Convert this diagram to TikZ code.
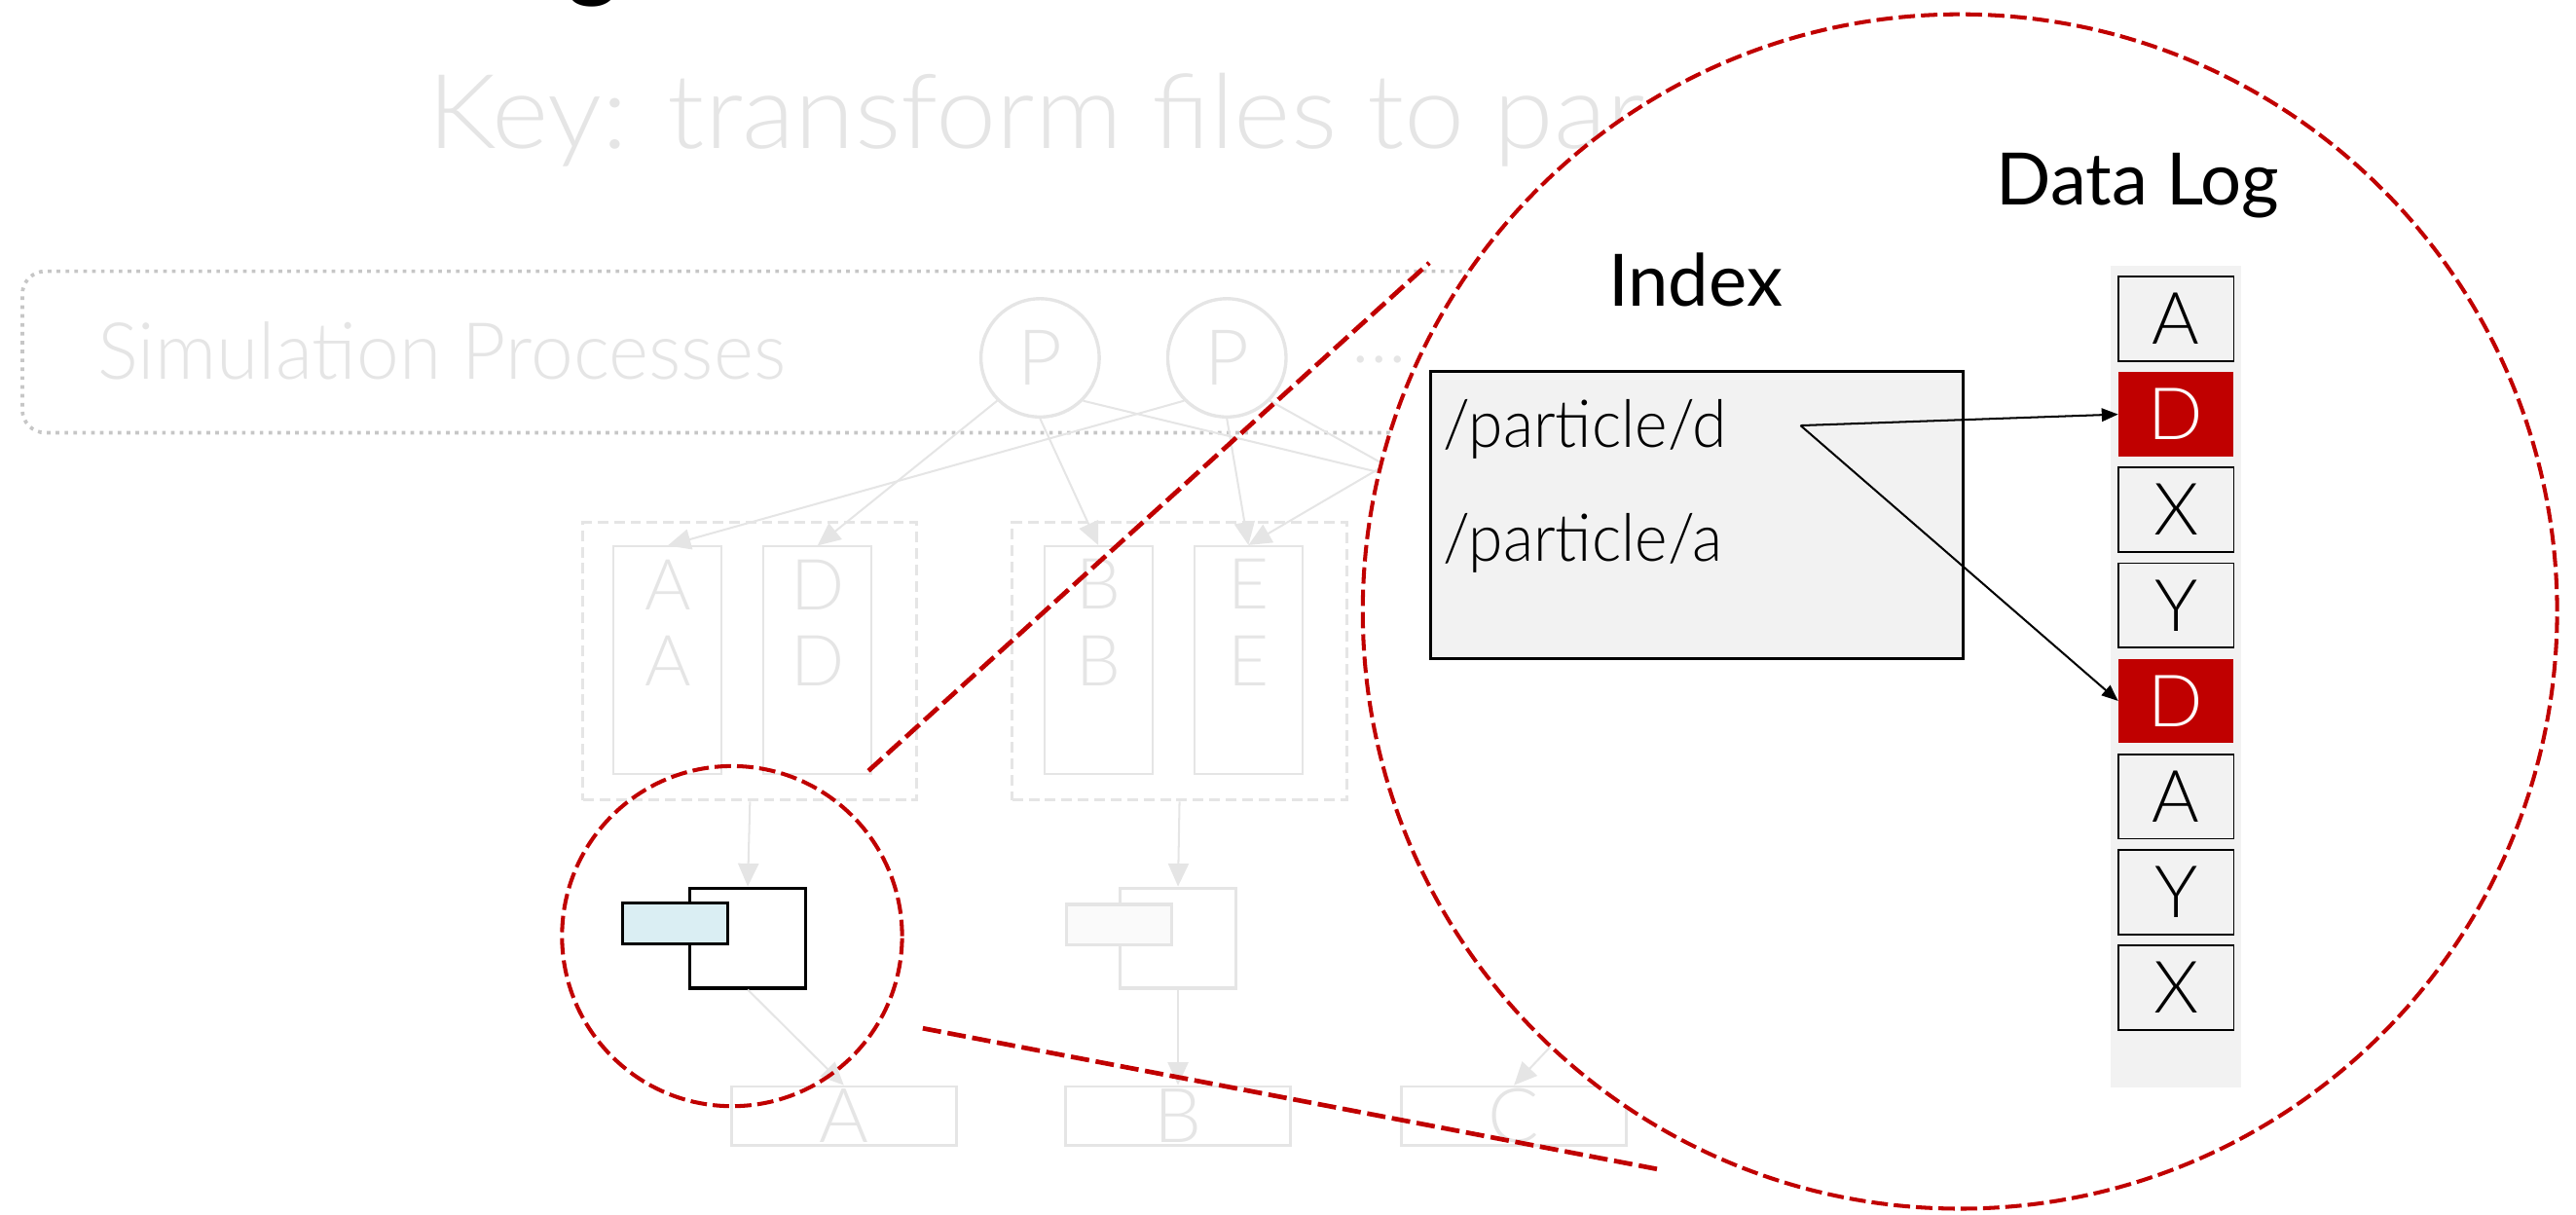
\documentclass[tikz,border=0pt]{standalone}
\usepackage{fontspec}
\usetikzlibrary{arrows.meta,calc}

% light and regular faces, with fallbacks
\IfFontExistsTF{Lato Light}
  {\newfontfamily\thinfont{Lato Light}
   \newfontfamily\thinwide{Lato Light}[FakeStretch=1.05]
   \newfontfamily\thinnarrow{Lato Light}[FakeStretch=0.97]
   \newfontfamily\thinpath{Lato Light}[FakeStretch=0.95]}
  {\newfontfamily\thinfont{Liberation Sans}
   \newfontfamily\thinwide{Liberation Sans}
   \newfontfamily\thinnarrow{Liberation Sans}
   \newfontfamily\thinpath{Liberation Sans}}
\IfFontExistsTF{Lato}
  {\newfontfamily\plainfont{Lato}}
  {\newfontfamily\plainfont{Liberation Sans}}

\definecolor{lg}{RGB}{229,229,229}
\definecolor{dotg}{RGB}{198,198,198}
\definecolor{zred}{RGB}{192,0,0}
\definecolor{idxfill}{RGB}{242,242,242}
\definecolor{lblue}{RGB}{218,238,243}
\definecolor{ghostfill}{RGB}{250,250,250}

\newcommand{\fs}[1]{\fontsize{#1}{#1}\selectfont}

\begin{document}
\begin{tikzpicture}[x=1pt,y=-1pt,
  faint/.style={text=lg, inner sep=0},
  simbox/.style={draw=dotg, line width=2.2, dash pattern=on 2.2 off 3.2,
    rounded corners=14, inner sep=0},
  pnode/.style={circle, draw=lg, line width=2, minimum size=72, inner sep=0,
    text=lg, font=\thinfont\fs{47}},
  grp/.style={draw=lg, line width=1.8, dash pattern=on 6.5 off 3.5, inner sep=0},
  col/.style={draw=lg, line width=1.2, fill=white, minimum width=65.8,
    minimum height=138.5, inner sep=0, anchor=north},
  glet/.style={text=lg, inner sep=0, font=\thinfont\fs{43}},
  garrow/.style={draw=lg, line width=1.2, -{Triangle[length=14pt, width=12.5pt]}},
  filebox/.style={draw=black, line width=2, fill=white, minimum width=70.5,
    minimum height=60.8, inner sep=0},
  tagbox/.style={draw=black, line width=2, fill=lblue, minimum width=64.3,
    minimum height=24.8, inner sep=0},
  outbox/.style={draw=lg, line width=1.5, fill=white, minimum width=136.9,
    minimum height=36, inner sep=0, text=lg, font=\thinfont\fs{46}},
  zdash/.style={draw=zred, line width=2.4, dash pattern=on 10 off 3.6},
  zline/.style={draw=zred, line width=2.8, dash pattern=on 11.3 off 4},
  cellw/.style={draw=black, line width=1, fill=idxfill, minimum width=70.1,
    minimum height=51.5, inner sep=0, font=\thinfont\fs{44}},
  cellr/.style={fill=zred, minimum width=70.1, minimum height=51.5,
    inner sep=0, text=white, font=\thinfont\fs{44}},
  darrow/.style={draw=black, line width=1.2, -{Triangle[length=10pt, width=8pt]}}
]
\useasboundingbox (0,0) rectangle (1568,739);
\clip (0,0) rectangle (1568,739);

% tail of the heading above
\node[anchor=south, inner sep=0, font=\plainfont\bfseries\fs{58}] (head) at (361,4.5) {g};

% faded background: key line and process graph
\node[faint, anchor=base west, font=\thinwide\fs{63}] (key) at (260,90.5)
  {Key: transform files to parallel};

\node[simbox, anchor=north west, minimum width=987.5, minimum height=98.3]
  (sim) at (12.5,164) {};
\node[faint, anchor=base west, font=\thinnarrow\fs{48}] (simlbl) at (59.3,231.1)
  {Simulation Processes};

\node[pnode] (p1) at (633.1,217.8) {P};
\node[pnode] (p2) at (746.8,217.8) {P};
\node[faint, anchor=base, font=\thinfont\fs{47}] (dots) at (839.5,220.5) {...};

% groups of per-process files
\node[grp, anchor=north west, minimum width=203.2, minimum height=168.9]
  (g1) at (354,317.2) {};
\node[grp, anchor=north west, minimum width=203.7, minimum height=168.9]
  (g2) at (615.2,317.2) {};

\node[col] (colA) at (406.4,332.1) {};
\node[col] (colD) at (497.6,332.1) {};
\node[col] (colB) at (668.5,331.8) {};
\node[col] (colE) at (759.9,331.8) {};

\node[glet] (a1) at ($(colA.north)+(0,23.7)$) {A};
\node[glet] (a2) at ($(colA.north)+(0,70.4)$) {A};
\node[glet] (d1) at ($(colD.north)+(0,23.7)$) {D};
\node[glet] (d2) at ($(colD.north)+(0,70.4)$) {D};
\node[glet] (b1) at ($(colB.north)+(0,23.7)$) {B};
\node[glet] (b2) at ($(colB.north)+(0,70.4)$) {B};
\node[glet] (e1) at ($(colE.north)+(0,23.7)$) {E};
\node[glet] (e2) at ($(colE.north)+(0,70.4)$) {E};

% ends of the third group, which lies under the magnifier
\coordinate (p3) at (910.4,243.7);
\coordinate (g3a) at (930.4,331.6);
\coordinate (g3b) at (1021.8,331.6);
\coordinate (g3r) at (977.5,601.4);

\draw[garrow] (p1.225) -- (colD.north);
\draw[garrow] (p2.225) -- (colA.north);
\draw[garrow] (p1.270) -- (colB.north);
\draw[garrow] (p2.270) -- (colE.north);
\draw[garrow] (p3) -- (colE.north);
\draw[garrow] (p1.315) -- (g3b);
\draw[garrow] (p2.315) -- (g3a);

% merged files
\node[filebox] (f1) at (455.15,571) {};
\node[tagbox] (t1) at (410.95,562.1) {};
\node[filebox, draw=lg] (f2) at (717.05,571) {};
\node[tagbox, draw=lg, fill=ghostfill] (t2) at (681.2,562.8) {};

\draw[garrow] (g1.south) -- (f1.north);
\draw[garrow] (g2.south) -- (f2.north);

% output files
\node[outbox] (oA) at (513.65,679.3) {A};
\node[outbox] (oB) at (717.05,679.3) {B};
\node[outbox] (oC) at (921.55,679.3) {C};

\draw[garrow] (f1.south) -- (oA.north);
\draw[garrow] (f2.south) -- (oB.north);
\draw[garrow] (g3r) -- (oC.north);

% magnifier
\node[circle, zdash, minimum size=207, inner sep=0] (lens) at (445.6,569.8) {};
\coordinate (l1a) at (528.6,469.2);
\coordinate (l1b) at (870,160);
\coordinate (l2a) at (561.7,625.9);
\coordinate (l2b) at (1011.4,712.1);
\draw[zline] (l1a) -- (l1b);
\draw[zline] (l2a) -- (l2b);

\node[circle, zdash, fill=white, minimum size=727, inner sep=0] (big) at (1193,372.2) {};

% index and data log
\node[inner sep=0, anchor=base, font=\plainfont\fs{44}] (idxlbl) at (1032,186.1) {Index};
\node[inner sep=0, anchor=base, font=\plainfont\fs{44}] (loglbl) at (1301.4,124.8) {Data Log};

\node[draw=black, line width=1.6, fill=idxfill, minimum width=324, minimum height=175,
  inner sep=0] (idx) at (1033,313.5) {};
\node[inner sep=0, anchor=base west, font=\thinpath\fs{40}] (pd) at (878.2,272.3) {/particle/d};
\node[inner sep=0, anchor=base west, font=\thinpath\fs{40}] (pa) at (878.2,341.5) {/particle/a};

\node[fill=idxfill, minimum width=79.1, minimum height=500, inner sep=0] (strip) at (1324.45,412) {};
\node[cellw] (c0) at (1324.55,194.05) {A};
\node[cellr] (c1) at (1324.55,252.2) {D};
\node[cellw] (c2) at (1324.55,310.35) {X};
\node[cellw] (c3) at (1324.55,368.5) {Y};
\node[cellr] (c4) at (1324.55,426.65) {D};
\node[cellw] (c5) at (1324.55,484.8) {A};
\node[cellw] (c6) at (1324.55,542.95) {Y};
\node[cellw] (c7) at (1324.55,601.1) {X};

\coordinate (ptr) at (1096,259);
\draw[darrow] (ptr) -- (c1.west);
\draw[darrow] (ptr) -- (c4.west);
\end{tikzpicture}
\end{document}
